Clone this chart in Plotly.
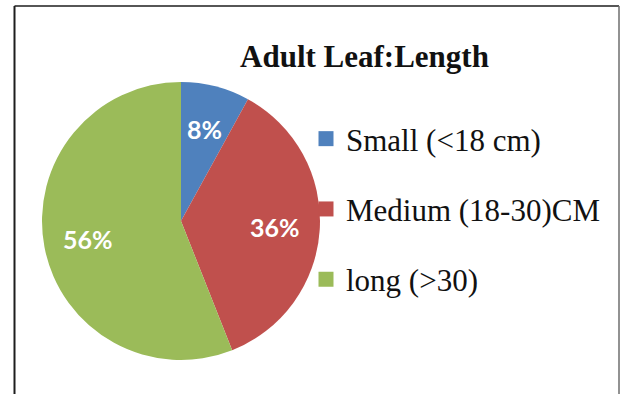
import math
import plotly.graph_objects as go

# Adult leaf length classes and their share of samples (%)
categories = ["Small (<18 cm)", "Medium (18-30)CM", "long (>30)"]
shares = [8, 36, 56]
colors = ["#4F81BD", "#C0504D", "#9BBB59"]
title_text = "Adult Leaf:Length"

W, H = 621, 394
cx, cy, r = 181, 221, 139  # pie centre and radius in pixels
dom_x = [(cx - r) / W, (cx + r) / W]
dom_y = [(H - cy - r) / H, (H - cy + r) / H]

fig = go.Figure()

fig.add_trace(go.Pie(
    labels=categories,
    values=shares,
    sort=False,
    direction="clockwise",
    rotation=0,
    marker=dict(colors=colors, line=dict(width=0)),
    textinfo="none",
    showlegend=False,
    hoverinfo="label+percent",
    domain=dict(x=dom_x, y=dom_y),
))

# percentage labels placed along each slice's bisector
total = sum(shares)
cum = 0
label_r = 0.68 * r
annotations = []
for v in shares:
    mid = (cum + v / 2) / total * 2 * math.pi  # clockwise from 12 o'clock
    cum += v
    px = cx + label_r * math.sin(mid)
    py = cy - label_r * math.cos(mid)
    annotations.append(dict(
        x=px / W, y=1 - py / H, xref="paper", yref="paper",
        text=f"{round(v / total * 100)}%", showarrow=False,
        xanchor="center", yanchor="middle",
        font=dict(family="Lato", size=25, color="white", weight="bold"),
    ))

# legend entries, one group each so the rows can be spaced apart
for name, c in zip(categories, colors):
    fig.add_trace(go.Scatter(
        x=[None], y=[None], mode="markers", name=name, legendgroup=name,
        marker=dict(symbol="square", size=15, color=c),
    ))

frame = "#1e1e1e"
fig.update_layout(
    width=W, height=H,
    margin=dict(l=0, r=0, t=0, b=0),
    paper_bgcolor="white", plot_bgcolor="white",
    xaxis=dict(visible=False), yaxis=dict(visible=False),
    title=dict(text=title_text, x=364.5 / W, xanchor="center",
               y=1 - 56 / H, yanchor="middle", yref="container",
               font=dict(family="Liberation Serif", size=31, color="#111111",
                         weight="bold")),
    legend=dict(x=306 / W, xanchor="left", y=1 - 112 / H, yanchor="top",
                font=dict(family="Liberation Serif", size=31, color="#111111"),
                itemwidth=30, tracegroupgap=27, bgcolor="rgba(0,0,0,0)"),
    annotations=annotations,
    shapes=[
        dict(type="line", xref="paper", yref="paper", x0=14.5 / W, x1=14.5 / W,
             y0=0, y1=1 - 6 / H, line=dict(color=frame, width=2)),
        dict(type="line", xref="paper", yref="paper", x0=14.5 / W, x1=619 / W,
             y0=1 - 6 / H, y1=1 - 6 / H, line=dict(color=frame, width=1.5)),
        dict(type="line", xref="paper", yref="paper", x0=619 / W, x1=619 / W,
             y0=0, y1=1 - 6 / H, line=dict(color="#6e6e6e", width=1.5)),
    ],
)

fig.write_html("out.html")
